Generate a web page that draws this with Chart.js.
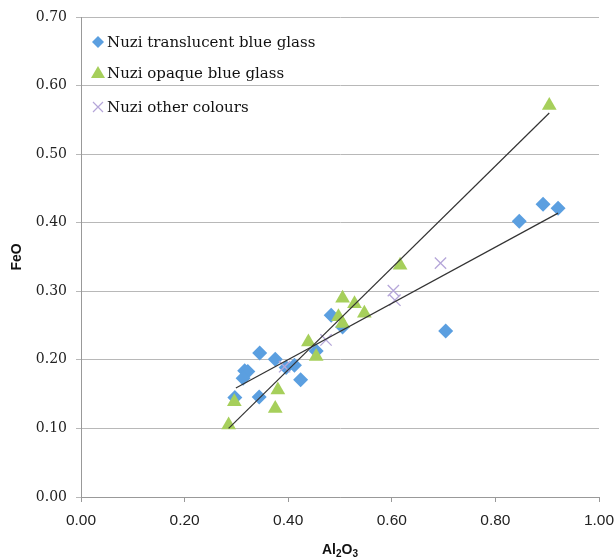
<!DOCTYPE html>
<html>
<head>
<meta charset="utf-8">
<script src="https://cdn.jsdelivr.net/npm/chart.js@4/dist/chart.umd.min.js"></script>
<style>
  html, body { margin: 0; padding: 0; background: #fff; }
  #wrap { width: 615px; height: 560px; }
</style>
</head>
<body>
<div id="wrap"><canvas id="chart" width="615" height="560"></canvas></div>
<script>
// series labels
const seriesNames = ['Nuzi translucent blue glass', 'Nuzi opaque blue glass', 'Nuzi other colours'];

// Nuzi translucent blue glass (Al2O3, FeO)
const translucentX = [0.345, 0.375, 0.316, 0.322, 0.313, 0.412, 0.396, 0.424, 0.297, 0.344, 0.454, 0.483, 0.505, 0.704, 0.846, 0.892, 0.921];
const translucentY = [0.210, 0.201, 0.184, 0.183, 0.173, 0.192, 0.189, 0.171, 0.145, 0.146, 0.213, 0.265, 0.248, 0.242, 0.402, 0.427, 0.421];

// Nuzi opaque blue glass
const opaqueX = [0.285, 0.296, 0.380, 0.375, 0.439, 0.454, 0.505, 0.528, 0.547, 0.497, 0.505, 0.616, 0.904];
const opaqueY = [0.105, 0.139, 0.156, 0.129, 0.226, 0.205, 0.290, 0.282, 0.268, 0.263, 0.253, 0.338, 0.571];

// Nuzi other colours
const otherX = [0.393, 0.473, 0.603, 0.606, 0.694];
const otherY = [0.190, 0.229, 0.301, 0.287, 0.341];

// trend line end points, as drawn
const trendTranslucentX = [0.299, 0.921];
const trendTranslucentY = [0.159, 0.414];
const trendOpaqueX = [0.285, 0.904];
const trendOpaqueY = [0.100, 0.560];

// axis ticks
const xTicks = [0, 0.2, 0.4, 0.6, 0.8, 1.0];
const yTicks = [0, 0.1, 0.2, 0.3, 0.4, 0.5, 0.6, 0.7];

const BLUE = '#5b9fe0';
const GREEN = '#a6cf5b';
const PURPLE = '#b5a6d9';

function pts(xs, ys) {
    return xs.map((x, i) => ({ x: x, y: ys[i] }));
}

// legend drawn inside the plot, top left
const insideLegend = {
    id: 'insideLegend',
    afterDraw(chart) {
        const ctx = chart.ctx;
        const left = chart.chartArea.left;
        const rows = [42, 73, 107];
        ctx.save();
        ctx.font = '15px "DejaVu Serif"';
        ctx.textBaseline = 'middle';
        rows.forEach((y, i) => {
            const mx = left + 17;
            ctx.beginPath();
            if (i === 0) {
                ctx.fillStyle = BLUE;
                ctx.moveTo(mx, y - 6); ctx.lineTo(mx + 6, y); ctx.lineTo(mx, y + 6); ctx.lineTo(mx - 6, y);
                ctx.closePath(); ctx.fill();
            } else if (i === 1) {
                ctx.fillStyle = GREEN;
                ctx.moveTo(mx, y - 7); ctx.lineTo(mx + 7, y + 5); ctx.lineTo(mx - 7, y + 5);
                ctx.closePath(); ctx.fill();
            } else {
                ctx.strokeStyle = PURPLE;
                ctx.lineWidth = 1.2;
                ctx.moveTo(mx - 5, y - 5); ctx.lineTo(mx + 5, y + 5);
                ctx.moveTo(mx + 5, y - 5); ctx.lineTo(mx - 5, y + 5);
                ctx.stroke();
            }
            ctx.fillStyle = '#111';
            ctx.fillText(seriesNames[i], left + 26, y + 1);
        });
        ctx.restore();
    }
};

// x axis title with real subscripts
const xTitle = {
    id: 'xTitle',
    afterDraw(chart) {
        const ctx = chart.ctx;
        const a = chart.chartArea;
        const parts = [['Al', 14, 0], ['2', 10, 3], ['O', 14, 0], ['3', 10, 3]];
        ctx.save();
        ctx.fillStyle = '#111';
        ctx.textBaseline = 'alphabetic';
        let w = 0;
        parts.forEach(p => { ctx.font = 'bold ' + p[1] + 'px "Liberation Sans"'; w += ctx.measureText(p[0]).width; });
        let x = (a.left + a.right) / 2 - w / 2;
        const base = 554;
        parts.forEach(p => {
            ctx.font = 'bold ' + p[1] + 'px "Liberation Sans"';
            ctx.fillText(p[0], x, base + p[2]);
            x += ctx.measureText(p[0]).width;
        });
        ctx.restore();
    }
};

new Chart(document.getElementById('chart'), {
    type: 'scatter',
    data: {
        datasets: [
            {
                label: 'trend translucent',
                data: pts(trendTranslucentX, trendTranslucentY),
                showLine: true,
                borderColor: '#333',
                borderWidth: 1.2,
                pointRadius: 0,
                order: 0
            },
            {
                label: 'trend opaque',
                data: pts(trendOpaqueX, trendOpaqueY),
                showLine: true,
                borderColor: '#333',
                borderWidth: 1.2,
                pointRadius: 0,
                order: 0
            },
            {
                label: seriesNames[2],
                data: pts(otherX, otherY),
                pointStyle: 'crossRot',
                pointRadius: 8,
                borderColor: PURPLE,
                borderWidth: 1.3,
                order: 1
            },
            {
                label: seriesNames[1],
                data: pts(opaqueX, opaqueY),
                pointStyle: 'triangle',
                pointRadius: 8.5,
                backgroundColor: GREEN,
                borderColor: GREEN,
                borderWidth: 0,
                order: 2
            },
            {
                label: seriesNames[0],
                data: pts(translucentX, translucentY),
                pointStyle: 'rectRot',
                pointRadius: 7.5,
                backgroundColor: BLUE,
                borderColor: BLUE,
                borderWidth: 0,
                order: 3
            }
        ]
    },
    options: {
        responsive: false,
        animation: false,
        layout: { padding: { left: 0, right: 16, top: 17, bottom: 0 } },
        plugins: {
            legend: { display: false },
            tooltip: { enabled: false }
        },
        scales: {
            x: {
                type: 'linear',
                min: 0,
                max: 1,
                afterFit: s => { s.height = 63; s.paddingLeft = 0; s.paddingRight = 0; },
                afterBuildTicks: s => { s.ticks = xTicks.map(v => ({ value: v })); },
                ticks: {
                    font: { family: 'Liberation Sans', size: 15.5 },
                    color: '#222',
                    padding: 9,
                    callback: v => v.toFixed(2)
                },
                grid: { drawOnChartArea: false, drawTicks: true, tickLength: 5, color: '#999' },
                border: { color: '#999' }
            },
            y: {
                type: 'linear',
                min: 0,
                max: 0.7,
                afterFit: s => { s.width = 81; s.paddingTop = 0; s.paddingBottom = 0; },
                afterBuildTicks: s => { s.ticks = yTicks.map(v => ({ value: v })); },
                ticks: {
                    font: { family: 'DejaVu Serif', size: 14 },
                    color: '#222',
                    padding: 9,
                    callback: v => v.toFixed(2)
                },
                grid: { color: '#b8b8b8', tickLength: 5 },
                border: { color: '#999' },
                title: {
                    display: true,
                    text: 'FeO',
                    font: { family: 'Liberation Sans', size: 14, weight: 'bold' },
                    color: '#111',
                    padding: { top: 9, bottom: 0 }
                }
            }
        }
    },
    plugins: [insideLegend, xTitle]
});
</script>
</body>
</html>
